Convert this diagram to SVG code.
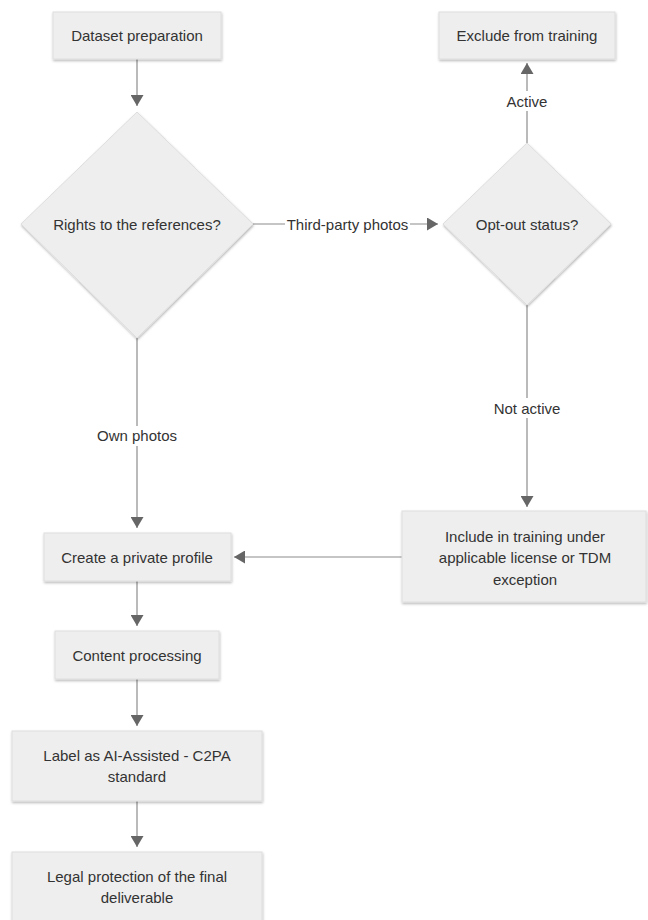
<svg xmlns="http://www.w3.org/2000/svg" width="648" height="920" viewBox="0 0 648 920">
<style>
.node{fill:#eeeeee;stroke:#dedede;stroke-width:1;filter:url(#sh)}
.t{font-family:"Liberation Sans",Arial,sans-serif;font-size:15px;fill:#333333;text-anchor:middle}
.edge{stroke:#8c8c8c;stroke-width:1.2;fill:none;marker-end:url(#ah)}
.lbg{fill:#ffffff}
</style>
<defs>
<filter id="sh" x="-10%" y="-10%" width="120%" height="130%">
<feDropShadow dx="0.5" dy="1.5" stdDeviation="1.2" flood-color="#000000" flood-opacity="0.28"/>
</filter>
<marker id="ah" viewBox="0 0 11 13" refX="11" refY="6.5" markerWidth="11" markerHeight="13" markerUnits="userSpaceOnUse" orient="auto">
<path d="M0,0 L11,6.5 L0,13 z" fill="#666666"/>
</marker>
</defs>
<g id="connectors">
<path class="edge" d="M137,59 L137,106"/>
<path class="edge" d="M253,224 L438,224"/>
<rect class="lbg" x="285" y="214" width="125" height="20"/>
<text class="t" x="347.5" y="229.5">Third-party photos</text>
<path class="edge" d="M527,143 L527,63"/>
<rect class="lbg" x="502" y="91" width="50" height="20"/>
<text class="t" x="527" y="106.5">Active</text>
<path class="edge" d="M527,305 L527,507"/>
<rect class="lbg" x="491" y="398" width="72" height="20"/>
<text class="t" x="527" y="413.5">Not active</text>
<path class="edge" d="M137,338 L137,528"/>
<rect class="lbg" x="95" y="426" width="84" height="20"/>
<text class="t" x="137" y="441">Own photos</text>
<path class="edge" d="M402,557 L234,557"/>
<path class="edge" d="M137,581 L137,626"/>
<path class="edge" d="M137,679 L137,726"/>
<path class="edge" d="M137,801 L137,847"/>
</g>
<g id="n1">
<rect class="node" x="53" y="12" width="168" height="47"/>
<text class="t" x="137" y="41">Dataset preparation</text>
</g>
<g id="n2">
<polygon class="node" points="137,112 253,224 137,338 21,224"/>
<text class="t" x="137" y="229.5">Rights to the references?</text>
</g>
<g id="n3">
<rect class="node" x="439" y="12" width="176" height="47"/>
<text class="t" x="527" y="41">Exclude from training</text>
</g>
<g id="n4">
<polygon class="node" points="527,143 611,224 527,305 443,224"/>
<text class="t" x="527" y="229.5">Opt-out status?</text>
</g>
<g id="n5">
<rect class="node" x="402" y="511" width="244" height="91"/>
<text class="t" x="525" y="541.5">Include in training under</text>
<text class="t" x="525" y="563">applicable license or TDM</text>
<text class="t" x="525" y="584.5">exception</text>
</g>
<g id="n6">
<rect class="node" x="44" y="533" width="187" height="48"/>
<text class="t" x="137" y="562.5">Create a private profile</text>
</g>
<g id="n7">
<rect class="node" x="55" y="631" width="164" height="48"/>
<text class="t" x="137" y="660.5">Content processing</text>
</g>
<g id="n8">
<rect class="node" x="12" y="731" width="250" height="70"/>
<text class="t" x="137" y="760.5">Label as AI-Assisted - C2PA</text>
<text class="t" x="137" y="781.5">standard</text>
</g>
<g id="n9">
<rect class="node" x="12" y="852" width="250" height="70"/>
<text class="t" x="137" y="881.5">Legal protection of the final</text>
<text class="t" x="137" y="902.5">deliverable</text>
</g>
</svg>
